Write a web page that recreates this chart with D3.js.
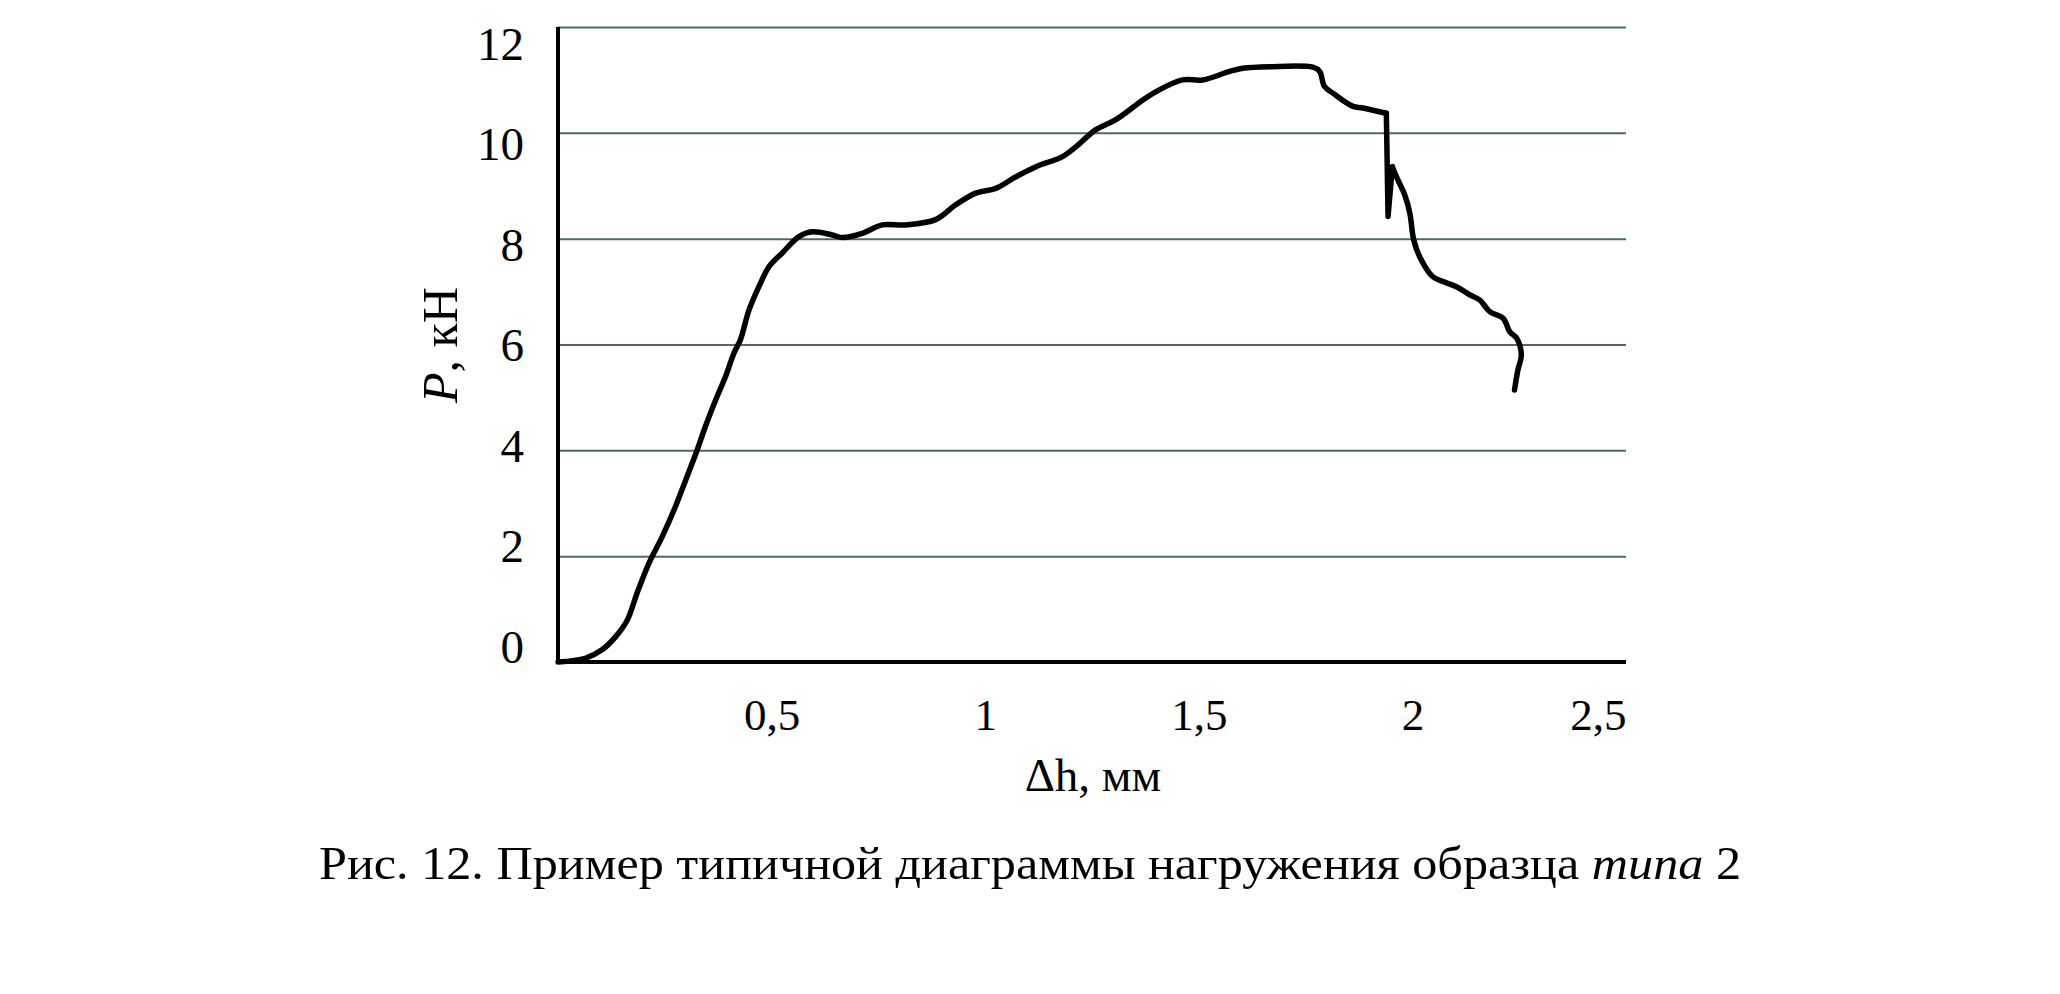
<!DOCTYPE html>
<html>
<head>
<meta charset="utf-8">
<script src="https://cdn.jsdelivr.net/npm/d3@7/dist/d3.min.js"></script>
<style>
  html, body { margin: 0; padding: 0; background: #fff; }
  svg { display: block; }
  text { font-family: "Liberation Serif", "Times New Roman", serif; fill: #000; }
</style>
</head>
<body>
<svg id="chart" width="2060" height="994"></svg>
<script>
// ---- data ----
const dh = [0, 0.064, 0.103, 0.135, 0.162, 0.185, 0.213, 0.244, 0.275, 0.299, 0.326, 0.345, 0.369, 0.392, 0.412, 0.427, 0.447, 0.470, 0.494, 0.525, 0.564, 0.595, 0.642, 0.666, 0.712, 0.759, 0.814, 0.884, 0.931, 0.978, 1.025, 1.072, 1.119, 1.181, 1.213, 1.259, 1.306, 1.369, 1.400, 1.462, 1.509, 1.572, 1.603, 1.666, 1.767, 1.783, 1.794, 1.814, 1.861, 1.884, 1.939, 1.943, 1.953, 1.966, 1.982, 1.994, 2.003, 2.017, 2.048, 2.072, 2.103, 2.134, 2.158, 2.181, 2.212, 2.228, 2.244, 2.255, 2.247, 2.239];
const P  = [0, 0.07, 0.23, 0.48, 0.79, 1.30, 1.87, 2.37, 2.94, 3.44, 4.01, 4.45, 4.95, 5.39, 5.84, 6.09, 6.65, 7.09, 7.47, 7.73, 8.04, 8.13, 8.07, 8.02, 8.10, 8.26, 8.26, 8.36, 8.64, 8.86, 8.95, 9.17, 9.36, 9.55, 9.74, 10.06, 10.25, 10.62, 10.78, 11.00, 11.00, 11.16, 11.22, 11.25, 11.24, 11.16, 10.88, 10.75, 10.50, 10.47, 10.37, 8.42, 9.36, 9.11, 8.83, 8.48, 7.98, 7.66, 7.28, 7.19, 7.09, 6.94, 6.84, 6.62, 6.50, 6.24, 6.12, 5.80, 5.52, 5.14];
const yTickValues = [0, 2, 4, 6, 8, 10, 12];
const xTickValues = [0.5, 1, 1.5, 2, 2.5];
const xTickLabels = ["0,5", "1", "1,5", "2", "2,5"];
const xTitle = "Δh, мм";
const yTitleItalic = "P";
const yTitleRest = ", кН";
const captionMain = "Рис. 12. Пример типичной диаграммы нагружения образца ";
const captionItalic = "типа";
const captionTail = " 2";

// ---- layout ----
const svg = d3.select("#chart");
const x = d3.scaleLinear().domain([0, 2.5]).range([558, 1626]);
const y = d3.scaleLinear().domain([0, 12]).range([662, 27]);
const yLab = d3.scaleLinear().domain([0, 12]).range([662, 59]);

// gridlines
svg.append("g")
  .attr("transform", `translate(${x(0)},0)`)
  .call(d3.axisLeft(y).tickValues(yTickValues.filter(v => v > 0)).tickSize(-(x(2.5) - x(0))).tickFormat(""))
  .call(g => g.select(".domain").remove())
  .call(g => g.selectAll("line").attr("stroke", "#566666").attr("stroke-width", 2));

// y tick labels
svg.append("g")
  .attr("transform", `translate(${x(0) - 34},0)`)
  .call(d3.axisLeft(yLab).tickValues(yTickValues).tickSize(0).tickPadding(0).tickFormat(d => String(d)))
  .call(g => g.select(".domain").remove())
  .call(g => g.selectAll("text")
      .attr("dy", 0)
      .attr("x", 0)
      .attr("text-anchor", "end")
      .style("font-family", '"Liberation Serif", serif')
      .style("font-size", "47px")
      .attr("fill", "#000"));

// x tick labels
svg.append("g")
  .attr("transform", `translate(0,${y(0)})`)
  .call(d3.axisBottom(x).tickValues(xTickValues).tickSize(0).tickPadding(0).tickFormat((d, i) => xTickLabels[i]))
  .call(g => g.select(".domain").remove())
  .call(g => g.selectAll("text")
      .attr("y", 68)
      .attr("dy", 0)
      .style("font-family", '"Liberation Serif", serif')
      .style("font-size", "45px")
      .attr("fill", "#000")
      .attr("text-anchor", (d, i) => i === xTickValues.length - 1 ? "end" : "middle"));

// axes lines
svg.append("line")
  .attr("x1", x(0)).attr("x2", x(0))
  .attr("y1", y(12)).attr("y2", y(0) + 2)
  .attr("stroke", "#000").attr("stroke-width", 4);
svg.append("line")
  .attr("x1", x(0) - 2).attr("x2", x(2.5))
  .attr("y1", y(0)).attr("y2", y(0))
  .attr("stroke", "#000").attr("stroke-width", 4);

// curve: smooth segments, with sharp corners at the sudden load drop
const pts = dh.map((d, i) => [d, P[i]]);
const dropIdx = dh.indexOf(1.939);
const segments = [
  { data: pts.slice(0, dropIdx + 1), curve: d3.curveCatmullRom.alpha(0.5) },
  { data: pts.slice(dropIdx, dropIdx + 3), curve: d3.curveLinear },
  { data: pts.slice(dropIdx + 2), curve: d3.curveCatmullRom.alpha(0.5) }
];
svg.selectAll("path.curve")
  .data(segments)
  .join("path")
  .attr("class", "curve")
  .attr("d", s => d3.line().x(d => x(d[0])).y(d => y(d[1])).curve(s.curve)(s.data))
  .attr("fill", "none")
  .attr("stroke", "#000")
  .attr("stroke-width", 5.5)
  .attr("stroke-linejoin", "round")
  .attr("stroke-linecap", "round");

// axis titles
svg.append("text")
  .attr("x", 1093).attr("y", 791)
  .attr("text-anchor", "middle")
  .style("font-size", "47px")
  .text(xTitle);

const yt = svg.append("text")
  .attr("transform", "translate(457,345) rotate(-90)")
  .attr("text-anchor", "middle")
  .style("font-size", "50px");
yt.append("tspan").style("font-style", "italic").text(yTitleItalic);
yt.append("tspan").text(yTitleRest);

// caption
const cap = svg.append("text")
  .attr("x", 319).attr("y", 879)
  .attr("textLength", 1422)
  .attr("lengthAdjust", "spacingAndGlyphs")
  .style("font-size", "46px");
cap.append("tspan").text(captionMain);
cap.append("tspan").style("font-style", "italic").text(captionItalic);
cap.append("tspan").text(captionTail);
</script>
</body>
</html>
